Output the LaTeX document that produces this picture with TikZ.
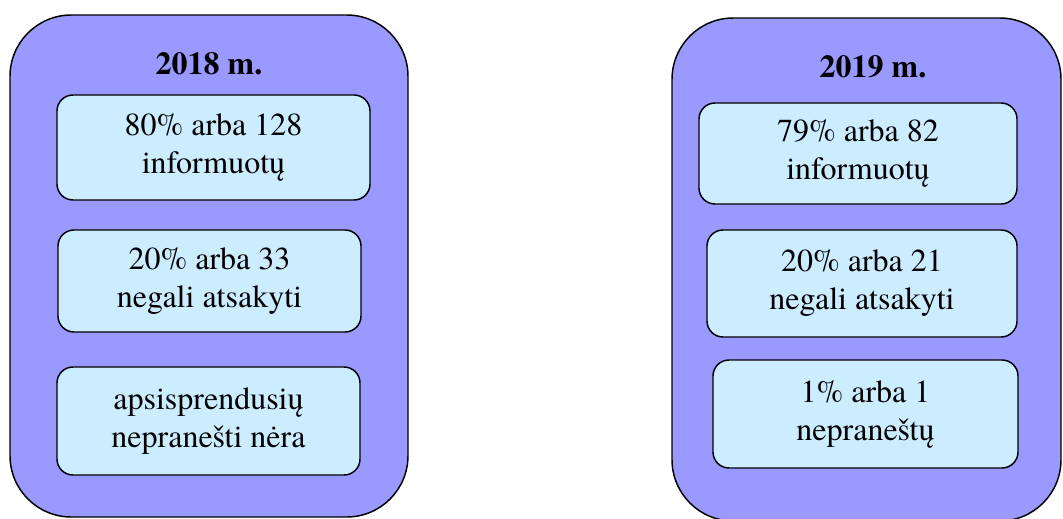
\documentclass[tikz,border=0pt]{standalone}
\usepackage{fontspec}
\setmainfont{TeX Gyre Termes}
\newfontfamily\boxfont{TeX Gyre Termes}
\definecolor{outerfill}{HTML}{9999FF}
\definecolor{innerfill}{HTML}{CCECFF}
\begin{document}
\begin{tikzpicture}[x=0.75pt,y=-0.75pt,
  outerbox/.style={draw=black,line width=1.1pt,fill=outerfill,rounded corners=46pt,inner sep=0pt},
  innerbox/.style={draw=black,line width=1.1pt,fill=innerfill,rounded corners=12pt,inner sep=0pt,align=center,font=\boxfont\fontsize{24}{28.5}\selectfont},
  titletext/.style={font=\boxfont\fontsize{24}{28}\selectfont\bfseries,anchor=base,inner sep=0pt}]
\useasboundingbox (0,0) rectangle (1063,518);
% outer boxes
\node[outerbox,minimum width={398*0.75pt},minimum height={502*0.75pt}] (left) at (209,266) {};
\node[outerbox,minimum width={389*0.75pt},minimum height={503*0.75pt}] (right) at (866.5,269.5) {};
% titles
\node[titletext] (lt) at (209,74) {2018 m.};
\node[titletext] (rt) at (873,77) {2019 m.};
% left inner boxes
\node[innerbox,minimum width={313*0.75pt},minimum height={105*0.75pt}] (l1) at (213.5,147.5) {80\% arba 128\\informuotų};
\node[innerbox,minimum width={303*0.75pt},minimum height={102*0.75pt}] (l2) at (209.5,281) {20\% arba 33\\negali atsakyti};
\node[innerbox,minimum width={303*0.75pt},minimum height={108*0.75pt}] (l3) at (208.5,421) {apsisprendusių\\nepranešti nėra};
% right inner boxes
\node[innerbox,minimum width={318*0.75pt},minimum height={101*0.75pt}] (r1) at (858,153.5) {79\% arba 82\\informuotų};
\node[innerbox,minimum width={310*0.75pt},minimum height={107*0.75pt}] (r2) at (862,283.5) {20\% arba 21\\negali atsakyti};
\node[innerbox,minimum width={305*0.75pt},minimum height={108*0.75pt}] (r3) at (865.5,414) {1\% arba 1\\nepraneštų};
\end{tikzpicture}
\end{document}
